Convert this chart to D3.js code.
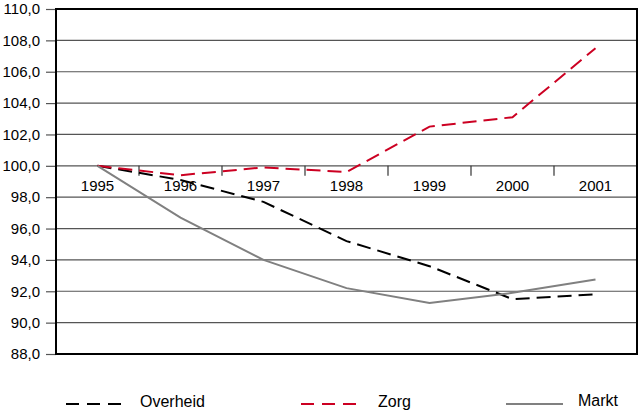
<!DOCTYPE html>
<html><head><meta charset="utf-8">
<script src="https://cdn.jsdelivr.net/npm/d3@7"></script>
<style>body{margin:0;background:#fff}svg{display:block}text{font-family:"Liberation Sans",Arial,sans-serif}</style>
</head><body><svg id="c" width="639" height="411"></svg>
<script>
const years = ["1995","1996","1997","1998","1999","2000","2001"];
const overheid = [100.0, 99.1, 97.7, 95.2, 93.6, 91.5, 91.8];
const zorg = [100.0, 99.4, 99.9, 99.6, 102.5, 103.1, 107.5];
const markt = [100.0, 96.7, 94.0, 92.2, 91.25, 91.9, 92.75];
const yTicks = [88,90,92,94,96,98,100,102,104,106,108,110];

const series = [
  {name:"Overheid", values:overheid, color:"#000000", dash:"14,7", lx:66, tx:140},
  {name:"Zorg", values:zorg, color:"#cc0022", dash:"14,7", lx:301, tx:378},
  {name:"Markt", values:markt, color:"#808080", dash:null, lx:506, tx:578}
];

const svg = d3.select("#c");
const L=56, R=637, T=9, B=354;
const x = d3.scaleBand().domain(years).range([L,R]);
const y = d3.scaleLinear().domain([88,110]).range([B,T]);
const fmt = v => d3.format(".1f")(v).replace(".",",");

// gridlines
svg.append("g").selectAll("line").data(yTicks.filter(t=>t>88 && t<110)).join("line")
  .attr("x1",L).attr("x2",R).attr("y1",d=>y(d)).attr("y2",d=>y(d))
  .attr("stroke","#555").attr("stroke-width",1.2);

// y axis
const ya = svg.append("g").attr("transform",`translate(${L},0)`)
  .call(d3.axisLeft(y).tickValues(yTicks).tickFormat(fmt).tickSize(10).tickPadding(6));
ya.select(".domain").remove();
ya.selectAll(".tick line").attr("stroke","#555").attr("stroke-width",1.2);
ya.selectAll("text").attr("font-size",15).attr("fill","#000");

// x axis at 100
const xa = svg.append("g").attr("transform",`translate(0,${y(100)})`)
  .call(d3.axisBottom(x).tickSize(0).tickPadding(15));
xa.select(".domain").remove();
xa.selectAll("text").attr("font-size",15).attr("fill","#000");
svg.append("g").selectAll("line").data(years.slice(1)).join("line")
  .attr("x1",d=>x(d)).attr("x2",d=>x(d)).attr("y1",y(100)).attr("y2",y(100)+10)
  .attr("stroke","#333").attr("stroke-width",1.2);

// frame
svg.append("rect").attr("x",L).attr("y",T).attr("width",R-L).attr("height",B-T)
  .attr("fill","none").attr("stroke","#000").attr("stroke-width",2);

// lines
const line = d3.line().x((d,i)=>x(years[i])+x.bandwidth()/2).y(d=>y(d));
series.forEach(s=>{
  svg.append("path").datum(s.values).attr("d",line).attr("fill","none")
    .attr("stroke",s.color).attr("stroke-width",2)
    .attr("stroke-dasharray",s.dash);
});

// legend
const lg = svg.append("g");
series.forEach(s=>{
  lg.append("line").attr("x1",s.lx).attr("x2",s.lx+(s.dash?62:57))
    .attr("y1",404).attr("y2",404).attr("stroke",s.color).attr("stroke-width",2)
    .attr("stroke-dasharray",s.dash?"13,8":null);
  lg.append("text").attr("x",s.tx).attr("y",s.name==="Markt"?406:407)
    .attr("font-size",16).attr("fill","#000").text(s.name);
});
</script></body></html>
